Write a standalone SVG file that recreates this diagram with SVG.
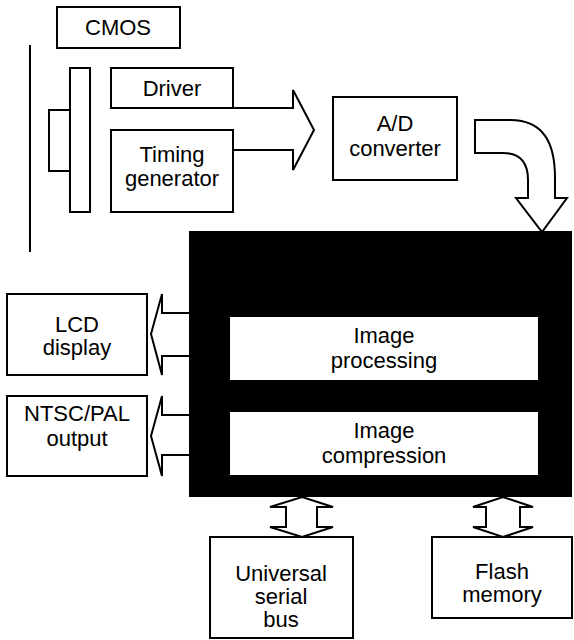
<svg xmlns="http://www.w3.org/2000/svg" width="574" height="640" viewBox="0 0 574 640">
<style>
.b{fill:#fff;stroke:#000;stroke-width:2}
.a{fill:#fff;stroke:#000;stroke-width:2;stroke-linejoin:miter}
text{font-family:"Liberation Sans",Arial,sans-serif;font-size:22px;fill:#000;text-anchor:middle}
</style>
<rect width="574" height="640" fill="#fff"/>
<g id="cmos-label"><rect class="b" x="57" y="7" width="123" height="41"/><text x="118" y="35">CMOS</text></g>
<g id="sensor">
<line x1="30" y1="45" x2="30" y2="252" stroke="#000" stroke-width="2"/>
<rect class="b" x="49" y="110" width="21" height="61"/>
<rect class="b" x="70" y="68" width="20" height="144"/>
</g>
<g id="connectors">
<path class="a" d="M233,108 L293,108 L293,90 L314,130 L293,170 L293,150 L233,150"/>
<path class="a" d="M475,120 L510,120 C545,120 555,145 555,178 L555,198 L567,198 L542,232 L516,198 L528,198 L528,180 C528,162 520,153 503,153 L475,153 Z"/>
<path class="a" d="M189,313 L162,313 L162,294 L151,334 L162,375 L162,356 L189,356"/>
<path class="a" d="M189,415 L162,415 L162,396 L151,436 L162,476 L162,455 L189,455"/>
<path class="a" d="M302,497 L333,507 L317,507 L317,527 L333,527 L302,537 L270,527 L286,527 L286,507 L270,507 Z"/>
<path class="a" d="M503,497 L533,507 L520,507 L520,527 L533,527 L503,537 L473,527 L486,527 L486,507 L473,507 Z"/>
</g>
<g id="driver"><rect class="b" x="111" y="68" width="122" height="40"/><text x="172" y="96">Driver</text></g>
<g id="timing"><rect class="b" x="111" y="130" width="122" height="82"/><text x="172" y="162">Timing</text><text x="172" y="186">generator</text></g>
<g id="ad"><rect class="b" x="333" y="97" width="124" height="83"/><text x="395" y="131">A/D</text><text x="395" y="156">converter</text></g>
<g id="processor">
<rect x="189" y="231" width="383" height="266" fill="#000"/>
<g id="imgproc"><rect x="230" y="317" width="308" height="63" fill="#fff"/><text x="384" y="343">Image</text><text x="384" y="368">processing</text></g>
<g id="imgcomp"><rect x="230" y="412" width="308" height="63" fill="#fff"/><text x="384" y="438">Image</text><text x="384" y="463">compression</text></g>
</g>
<g id="lcd"><rect class="b" x="7" y="294" width="140" height="81"/><text x="77" y="332">LCD</text><text x="77" y="355">display</text></g>
<g id="ntsc"><rect class="b" x="7" y="396" width="140" height="80"/><text x="77" y="421">NTSC/PAL</text><text x="77" y="446">output</text></g>
<g id="usb"><rect class="b" x="210" y="537" width="143" height="101"/><text x="281" y="581">Universal</text><text x="281" y="604">serial</text><text x="281" y="627">bus</text></g>
<g id="flash"><rect class="b" x="432" y="537" width="140" height="81"/><text x="502" y="579">Flash</text><text x="502" y="602">memory</text></g>
</svg>
